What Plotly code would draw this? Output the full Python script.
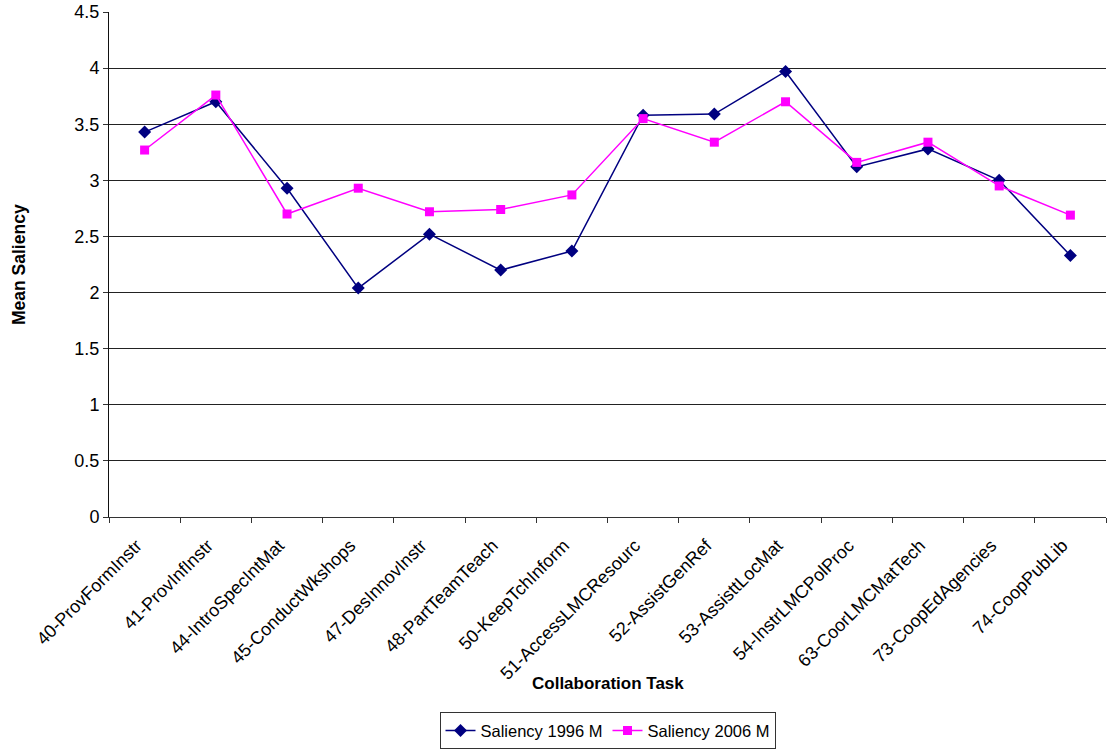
import plotly.graph_objects as go

categories = ["40-ProvFormInstr", "41-ProvInfInstr", "44-IntroSpecIntMat", "45-ConductWkshops",
              "47-DesInnovInstr", "48-PartTeamTeach", "50-KeepTchInform", "51-AccessLMCResourc",
              "52-AssistGenRef", "53-AssisttLocMat", "54-InstrLMCPolProc", "63-CoorLMCMatTech",
              "73-CoopEdAgencies", "74-CoopPubLib"]
saliency_1996 = [3.43, 3.70, 2.93, 2.04, 2.52, 2.20, 2.37, 3.58, 3.59, 3.97, 3.12, 3.28, 3.00, 2.33]
saliency_2006 = [3.27, 3.76, 2.70, 2.93, 2.72, 2.74, 2.87, 3.55, 3.34, 3.70, 3.16, 3.34, 2.95, 2.69]
y_ticks = [0, 0.5, 1, 1.5, 2, 2.5, 3, 3.5, 4, 4.5]
y_tick_labels = ["0", "0.5", "1", "1.5", "2", "2.5", "3", "3.5", "4", "4.5"]

FONT = "Liberation Sans, Arial, sans-serif"

fig = go.Figure()
fig.add_trace(go.Scatter(
    x=categories, y=saliency_1996, name="Saliency 1996 M", mode="lines+markers",
    line=dict(color="#000080", width=1.5),
    marker=dict(symbol="diamond", size=10, color="#000080")))
fig.add_trace(go.Scatter(
    x=categories, y=saliency_2006, name="Saliency 2006 M", mode="lines+markers",
    line=dict(color="#FF00FF", width=1.5),
    marker=dict(symbol="square", size=9, color="#FF00FF")))

plot_w = 1107 - 109 - 1
plot_h = 750 - 12 - 226

fig.update_layout(
    width=1107, height=750,
    margin=dict(l=109, r=1, t=12, b=226),
    paper_bgcolor="white", plot_bgcolor="white",
    font=dict(family=FONT, size=12, color="black"),
    showlegend=True,
    legend=dict(orientation="h", x=0.5, xanchor="center", y=(524 - 722) / plot_h, yanchor="top",
                bordercolor="#333", borderwidth=1, bgcolor="white",
                font=dict(family=FONT, size=16.5, color="black"),
                tracegroupgap=0),
    xaxis=dict(type="category", range=[-0.5, 13.5], tickangle=-45,
               showline=True, linecolor="#333", linewidth=1,
               ticks="outside", tickson="boundaries", ticklen=5, tickcolor="#333",
               ticklabelstandoff=10, ticklabelshift=-8,
               showgrid=False, tickfont=dict(family=FONT, size=18, color="black")),
    yaxis=dict(range=[0, 4.5], tickvals=y_ticks, ticktext=y_tick_labels,
               showline=True, linecolor="#111", linewidth=1,
               ticks="outside", ticklen=5, tickcolor="#333",
               showgrid=True, gridcolor="#222", gridwidth=1,
               zeroline=False, tickfont=dict(family=FONT, size=18, color="black")),
    annotations=[
        dict(text="<b>Mean Saliency</b>", x=(18.5 - 109) / plot_w, y=(524 - 268) / plot_h,
             xref="paper", yref="paper", xanchor="center", yanchor="middle",
             showarrow=False, textangle=-90, font=dict(family=FONT, size=17.5, color="black")),
        dict(text="<b>Collaboration Task</b>", x=0.5, y=(524 - 693) / plot_h,
             xref="paper", yref="paper", xanchor="center", yanchor="middle",
             showarrow=False, font=dict(family=FONT, size=17, color="black")),
    ],
)

fig.write_html("out.html")
